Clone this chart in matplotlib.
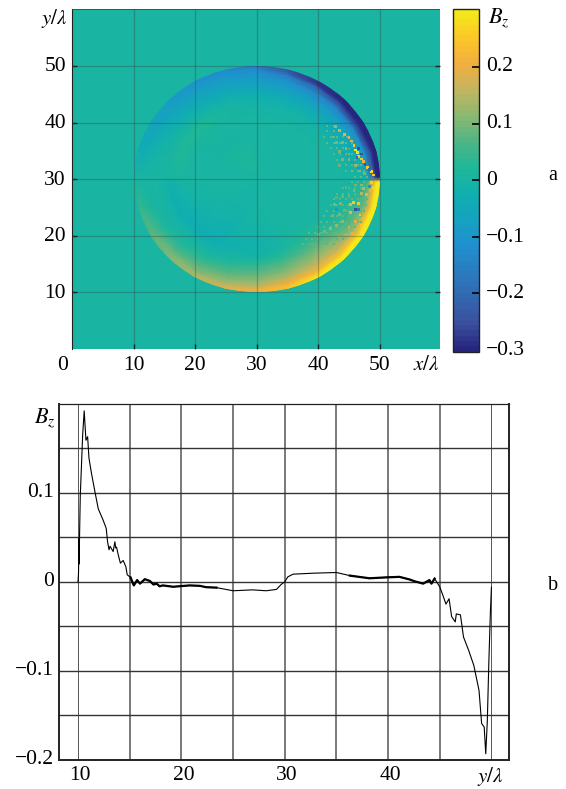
import numpy as np
import matplotlib
matplotlib.use('Agg')
import matplotlib.pyplot as plt
from matplotlib.colors import LinearSegmentedColormap, Normalize
from matplotlib.patches import Circle

plt.rcParams['font.family'] = ['Liberation Serif', 'DejaVu Serif']
plt.rcParams['mathtext.fontset'] = 'stix'

# panel a: field, polar cells around the (30, 30) centre
angles = [1, 15, 30, 45, 60, 75, 90, 105, 120, 135, 150, 165, 178,
          182, 195, 210, 225, 240, 255, 270, 285, 300, 315, 330, 345, 359]
radii = [20, 19.5, 19, 18, 17, 16, 15, 14, 13, 11, 8, 5, 2.5, 0]
field = [
    [-.30, -.30, -.20, -.05, 0, 0, 0, 0, 0, 0, 0, 0, 0, 0],
    [-.30, -.30, -.26, -.10, -.04, -.02, -.01, 0, 0, 0, 0, 0, 0, 0],
    [-.30, -.30, -.28, -.14, -.08, -.04, -.02, -.01, 0, 0, 0, 0, 0, 0],
    [-.30, -.30, -.26, -.14, -.09, -.06, -.03, -.015, -.005, 0, 0, 0, 0, 0],
    [-.28, -.28, -.21, -.13, -.09, -.06, -.03, -.015, -.005, 0, 0, 0, 0, 0],
    [-.24, -.22, -.16, -.11, -.08, -.06, -.03, -.015, -.005, 0, 0, 0, .005, 0],
    [-.16, -.13, -.11, -.09, -.07, -.05, -.025, -.01, -.005, 0, 0, .005, .012, 0],
    [-.13, -.11, -.10, -.08, -.06, -.04, -.015, -.005, 0, 0, .005, .01, .012, 0],
    [-.11, -.10, -.09, -.07, -.05, -.03, -.01, .005, .015, .005, .005, .012, .012, 0],
    [-.08, -.08, -.08, -.06, -.04, -.02, -.005, .01, .025, .01, .008, .012, .01, 0],
    [-.06, -.06, -.06, -.04, -.025, -.01, 0, .015, .025, .005, .008, .008, .005, 0],
    [-.035, -.035, -.03, -.015, -.005, 0, 0, .01, .02, 0, .005, .005, 0, 0],
    [0, 0, 0, 0, 0, 0, 0, .005, .01, 0, 0, 0, 0, 0],
    [0, 0, 0, 0, 0, 0, -.005, -.015, -.005, 0, 0, 0, 0, 0],
    [.03, .04, .03, .01, 0, 0, -.005, -.02, -.015, -.005, 0, 0, 0, 0],
    [.06, .08, .07, .04, .015, .005, -.005, -.02, -.025, -.01, -.005, 0, 0, 0],
    [.10, .11, .10, .06, .03, .01, 0, -.015, -.03, -.015, -.005, -.005, 0, 0],
    [.14, .14, .11, .08, .05, .02, .005, -.01, -.025, -.02, -.01, -.005, -.005, 0],
    [.18, .17, .14, .10, .07, .04, .015, 0, -.015, -.015, -.005, -.005, -.005, 0],
    [.21, .20, .16, .12, .09, .06, .03, .005, -.01, -.01, -.005, 0, 0, 0],
    [.24, .23, .20, .15, .11, .08, .05, .02, 0, -.005, 0, 0, 0, 0],
    [.30, .27, .22, .17, .13, .10, .07, .04, .02, 0, 0, 0, 0, 0],
    [.30, .30, .24, .17, .13, .10, .07, .04, .02, 0, 0, 0, 0, 0],
    [.30, .30, .24, .13, .08, .05, .03, .01, 0, 0, 0, 0, 0, 0],
    [.30, .30, .23, .09, .05, .03, .01, 0, 0, 0, 0, 0, 0, 0],
    [.30, .30, .20, .05, 0, 0, 0, 0, 0, 0, 0, 0, 0, 0],
]

# strong moire speckles near the right rim
speck_x = [46.0, 46.4, 45.8, 46.6, 47.0, 47.4, 48.0, 48.6, 49.0, 46.6, 47.0, 46.3, 47.6, 48.3,
           45.4, 45.0, 44.3, 43.5, 42.8, 44.0, 44.5, 43.5, 43.0, 42.5, 45.0, 45.0, 44.0, 43.5,
           46.0, 45.5, 46.8, 47.5, 45.0, 44.2, 43.8, 45.6, 46.5, 47.3,
           46.0, 45.7, 46.6, 45.3, 46.8, 45.2, 46.6, 48.6, 48.3, 48.9, 48.5, 47.9, 47.4, 47.0,
           47.0, 43.0, 42.6, 43.6, 43.4, 42.4, 44.3, 44.0, 43.0, 42.0, 41.0, 40.0, 45.0, 45.5,
           44.5, 43.5, 46.0, 47.0, 42.5, 41.5, 39.0, 45.0, 44.0, 43.0, 45.8, 46.0, 44.5]
speck_y = [35.2, 34.7, 36.0, 34.0, 33.6, 33.2, 32.1, 31.4, 30.8, 35.5, 34.5, 33.9, 32.7, 31.8,
           36.8, 37.4, 38.0, 38.7, 39.3, 36.5, 35.5, 35.0, 36.5, 37.5, 34.5, 33.5, 33.5, 32.5,
           32.5, 31.5, 31.5, 31.0, 35.8, 34.6, 37.2, 33.0, 32.0, 32.0,
           24.7, 25.9, 25.8, 24.1, 23.7, 25.6, 24.7, 29.5, 28.8, 28.5, 28.0, 27.3, 28.4, 27.5,
           29.0, 24.7, 25.5, 25.7, 23.8, 23.6, 24.6, 22.5, 21.8, 21.3, 20.8, 20.2, 21.5, 20.5,
           20.2, 19.8, 22.5, 21.8, 19.3, 19.2, 18.5, 27.0, 27.0, 26.8, 28.0, 29.0, 28.6]
speck_val = [.30, .28, .25, .25, .25, .20, .25, .28, .25, -.25, -.25, -.20, -.25, -.20,
             .20, .18, .20, .15, .12, .10, .12, .10, .10, .09, .10, .10, .10, .08,
             .12, .10, .12, .10, -.08, -.08, -.07, -.08, -.10, -.10,
             -.25, .25, .25, .20, .25, .20, -.18, .25, -.10, .28, .20, .20, .15, .15,
             .12, -.08, .10, .10, .10, .10, .10, .12, .12, .12, .10, .10, .15, .20,
             .14, .14, .18, .25, .10, .08, .08, .08, .08, .07, .10, .09, .07]

# faint checker rows of the moire, y and the x of each dot
check_y = [18.5, 19.5, 20.5, 21.5, 22.5, 23.5, 24.5, 25.5, 26.5, 27.5, 28.5, 29.5,
           30.5, 31.5, 32.5, 33.5, 34.5, 35.5, 36.5, 37.5, 38.5, 39.5]
check_x = [[37.5, 38.5, 39.5, 40.5, 41.5, 42.5],
           [38, 39, 40, 41, 42, 43, 44],
           [38.5, 39.5, 40.5, 41.5, 42.5, 43.5, 44.5],
           [40, 41, 42, 43, 44, 45, 46],
           [40.5, 41.5, 42.5, 43.5, 44.5, 45.5, 46.5, 47],
           [41, 42, 43, 44, 45, 46, 47],
           [41.5, 42.5, 44.5, 45, 47, 47.5],
           [42, 43, 44, 45, 47, 47.8],
           [42.5, 43.5, 44.5, 45.5, 46.5, 47.5, 48],
           [43, 44, 45, 46, 47, 48],
           [44, 45, 46, 47, 48],
           [45.5, 46.5, 47.5, 48.5],
           [46, 47, 48],
           [44.5, 45.5, 46.5, 47.5],
           [43.5, 44.5, 45.5, 46.5, 47],
           [43, 44, 45, 46],
           [42.5, 43.5, 44.5, 45.5],
           [42, 43, 44, 45],
           [41.5, 42.5, 43.5, 44.5, 45.5],
           [41, 42, 43, 44, 44.7],
           [41.5, 42.5, 43.5],
           [41.5, 42.5]]
check_val = 0.08

image_ticks = [10, 20, 30, 40, 50]
cbar_ticks = [-.3, -.2, -.1, 0, .1, .2]
cbar_labels = ['\u22120.3', '\u22120.2', '\u22120.1', '0', '0.1', '0.2']

# colours sampled from the colour bar, bottom to top
bar_colors = ['#26267f', '#3a4f9e', '#3268b0', '#2a7cc0', '#2090d0', '#15a3c0', '#10afb0',
              '#1fb899', '#50b585', '#8cb870', '#c4b560', '#f2ae3e', '#fbc828', '#f4ea18']

# panel b: cut along x = 30
cut_y = [10.0, 10.05, 10.1, 10.1, 10.22, 10.35, 10.45, 10.6, 10.7, 10.77, 10.93, 11.06, 11.3, 11.64,
         11.96, 12.44, 12.73, 12.86, 13.0, 13.1, 13.25, 13.4, 13.57, 13.65, 13.73, 13.9, 14.1, 14.37,
         14.63, 14.76, 15.08, 15.4, 15.72, 16.0, 16.46, 16.95, 17.3, 17.6, 17.9, 18.2, 19.2, 20.8,
         21.8, 22.4, 23.4, 25.0, 26.9, 28.2, 29.2, 29.65, 30.0, 30.3, 30.8, 32.7, 35.0, 36.3,
         38.2, 39.8, 41.1, 42.1, 42.6, 43.4, 44.0, 44.2, 44.5, 45.0, 45.3, 45.6, 45.9, 46.15,
         46.5, 46.6, 47.0, 47.3, 47.8, 48.3, 48.8, 49.05, 49.3, 49.45, 49.6, 49.75, 49.9, 50.0]
cut_bz = [0.0, .01, .049, .02, .097, .135, .165, .192, .172, .159, .163, .139, .122, .101,
          .082, .069, .060, .045, .036, .040, .037, .034, .045, .038, .039, .030, .021, .024,
          .017, .008, .005, -.004, .002, -.002, .003, .001, -.003, -.002, -.005, -.004, -.0055, -.004,
          -.0045, -.006, -.0065, -.010, -.009, -.010, -.0085, -.003, 0, .0056, .0086, .0097, .0105, .007,
          .004, .005, .0056, .0026, .0005, -.002, .002, -.002, .0037, -.0056, -.015, -.025, -.019, -.039,
          -.045, -.036, -.037, -.062, -.077, -.094, -.122, -.159, -.163, -.193, -.157, -.090, -.034, -.006]

W, H = 566, 789
fig = plt.figure(figsize=(W / 100, H / 100), dpi=100)


def box(left, right, top, bottom):
    return [left / W, 1 - bottom / H, (right - left) / W, (bottom - top) / H]


def label(px, py, s, size=15.5, ha='center'):
    fig.text(px / W, 1 - py / H, s, fontsize=size, ha=ha, va='center')


cmap = LinearSegmentedColormap.from_list('bar', bar_colors, N=64)
norm = Normalize(-0.303, 0.303)

ax = fig.add_axes(box(72, 439.5, 8.7, 349))
ax.set_facecolor(cmap(norm(0.0)))
th = np.radians(angles + [angles[0] + 360])
rr = np.array([21] + radii, dtype=float)
vals = np.array(field)
vals = np.column_stack([vals[:, 0], vals])      # extra ring, clipped by the circle
vals = np.vstack([vals, vals[0]])
T, R = np.meshgrid(th, rr, indexing='ij')
mesh = ax.pcolormesh(30 + R * np.cos(T), 30 + R * np.sin(T), vals, cmap=cmap, norm=norm,
                     shading='gouraud')
mesh.set_clip_path(Circle((30, 30), 20, transform=ax.transData))
for y, xs in zip(check_y, check_x):
    ax.scatter(xs, [y] * len(xs), color=cmap(norm(check_val)), s=3.5, marker='s', linewidths=0)
ax.scatter(speck_x, speck_y, c=speck_val, cmap=cmap, norm=norm, s=4, marker='s', linewidths=0)
ax.set_xlim(0, 59.7)
ax.set_ylim(0, 60.2)
ax.set_xticks(image_ticks)
ax.set_yticks(image_ticks)
ax.set_xticklabels([])
ax.set_yticklabels([])
ax.tick_params(length=3.5, width=1, direction='in', color='#222222', right=True)
ax.grid(color='#333333', alpha=0.3, lw=0.9)
ax.set_axisbelow(False)
ax.spines['right'].set_visible(False)
ax.spines['bottom'].set_visible(False)
ax.spines['top'].set_linewidth(0.6)
ax.spines['top'].set_color('#444444')
ax.spines['left'].set_color('#222222')

cax = fig.add_axes(box(453, 479, 8.7, 351.7))
cb = fig.colorbar(plt.cm.ScalarMappable(norm=norm, cmap=cmap), cax=cax)
cb.set_ticks(cbar_ticks)
cb.set_ticklabels([])
cax.tick_params(length=5, width=1.2, direction='in', color='black')
for t, v in zip(cax.yaxis.get_major_ticks(), cbar_ticks):
    t.tick2line.set_color('white' if v in (-.1, -.2) else 'black')
    t.tick2line.set_visible(v != -.3)
cb.outline.set_edgecolor('#222222')
cb.outline.set_linewidth(1)

for v in image_ticks:
    label(72 + v * 6.155, 366, str(v))
    label(55, 350 - v * 5.665, str(v))
label(62.5, 366, '0')
label(426, 366, r'$x/\lambda$', size=15)
label(54, 18, r'$y/\lambda$', size=15)
for v, s in zip(cbar_ticks, cbar_labels):
    label(486, 180.3 - v * 567, s, ha='left')
label(488, 18, r'$B_z$', size=16, ha='left')
label(553, 175, 'a', size=14.5)

# panel b
cut_y = np.array(cut_y)
cut_bz = np.array(cut_bz)
ax2 = fig.add_axes(box(59.3, 509, 403.7, 760))
ax2.plot(cut_y, cut_bz, color='black', lw=0.8)
# the curve looks heavier where it is noisy
thick = ((cut_y > 15) & (cut_y < 24)) | ((cut_y > 36) & (cut_y < 45))
ax2.plot(np.where(thick, cut_y, np.nan), cut_bz, color='black', lw=1.6)
ax2.set_xlim(8.19, 51.7)
ax2.set_ylim(-0.2, 0.2)
ax2.set_xticks(np.arange(10, 51, 5))
ax2.set_yticks(np.arange(-0.15, 0.16, 0.05))
ax2.set_xticklabels([])
ax2.set_yticklabels([])
ax2.tick_params(length=0)
ax2.grid(axis='x', color='#555555', lw=1.1)
ax2.grid(axis='y', color='#333333', lw=1.0)
ax2.xaxis.get_gridlines()[0].set_linewidth(0.7)
ax2.xaxis.get_gridlines()[-1].set_linewidth(0.7)
ax2.set_axisbelow(True)
for s in ax2.spines.values():
    s.set_linewidth(1.4)
    s.set_color('#222222')
ax2.spines['top'].set_linewidth(0.9)

for v in [10, 20, 30, 40]:
    label(78 + (v - 10) * 10.34 + 2, 776, str(v))
for v, s in zip([.1, 0, -.1, -.2], ['0.1', '0', '\u22120.1', '\u22120.2']):
    label(54, 581.7 - v * 890, s, ha='right')
label(45, 418, r'$B_z$', size=16)
label(490, 776, r'$y/\lambda$', size=15)
label(553, 585, 'b', size=14.5)

fig.savefig('out.png', dpi=100)
